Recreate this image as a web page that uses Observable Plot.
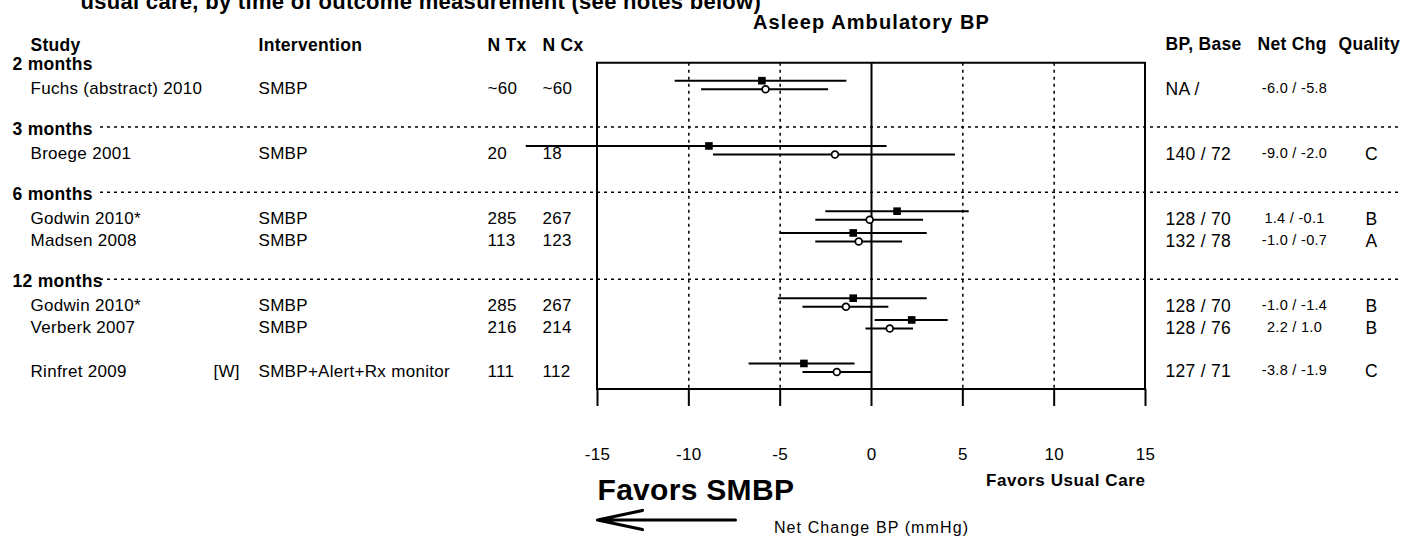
<!DOCTYPE html>
<html>
<head>
<meta charset="utf-8">
<script src="https://cdn.jsdelivr.net/npm/d3@7"></script>
<script src="https://cdn.jsdelivr.net/npm/@observablehq/plot@0.6"></script>
<style>
  html, body { margin: 0; padding: 0; background: #fff; }
  #chart svg { overflow: hidden; display: block; }
  #chart svg text { letter-spacing: 0.3px; }
  #chart svg g.wide text { letter-spacing: 1.1px; }
  #chart svg g.mid text { letter-spacing: 0.6px; }
</style>
</head>
<body>
<div id="chart"></div>
<script>
// ---------- data ----------
const title = "usual care, by time of outcome measurement (see notes below)";
const panelTitle = "Asleep Ambulatory BP";
const headersLeft = ["Study", "Intervention", "N Tx", "N Cx"];
const headersRight = ["BP, Base", "Net Chg", "Quality"];

const periods = ["2 months", "3 months", "6 months", "6 months", "12 months", "12 months", "12 months"];
const studies = ["Fuchs (abstract) 2010", "Broege 2001", "Godwin 2010*", "Madsen 2008", "Godwin 2010*", "Verberk 2007", "Rinfret 2009"];
const notes = ["", "", "", "", "", "", "[W]"];
const interventions = ["SMBP", "SMBP", "SMBP", "SMBP", "SMBP", "SMBP", "SMBP+Alert+Rx monitor"];
const nTx = ["~60", "20", "285", "113", "285", "216", "111"];
const nCx = ["~60", "18", "267", "123", "267", "214", "112"];
const bpBase = ["NA /", "140 / 72", "128 / 70", "132 / 78", "128 / 70", "128 / 76", "127 / 71"];
const netChg = ["-6.0 / -5.8", "-9.0 / -2.0", "1.4 / -0.1", "-1.0 / -0.7", "-1.0 / -1.4", "2.2 / 1.0", "-3.8 / -1.9"];
const quality = ["", "C", "B", "A", "B", "B", "C"];

// filled squares (first value) and open circles (second value), with CI ends
const sqEst = [-6.0, -8.9, 1.4, -1.0, -1.0, 2.2, -3.7];
const sqLo  = [-10.75, -18.9, -2.5, -5.0, -5.1, 0.2, -6.7];
const sqHi  = [-1.35, 0.85, 5.35, 3.05, 3.05, 4.2, -0.9];
const ciEst = [-5.8, -2.0, -0.1, -0.7, -1.4, 1.0, -1.9];
const ciLo  = [-9.3, -8.65, -3.05, -3.05, -3.75, -0.3, -3.75];
const ciHi  = [-2.35, 4.6, 2.85, 1.7, 0.95, 2.3, 0.0];

const xDomain = [-15, 15];
const xTicks = [-15, -10, -5, 0, 5, 10, 15];
const gridTicks = [-10, -5, 5, 10];
const xLabel = "Net Change BP (mmHg)";
const favorLeft = "Favors SMBP";
const favorRight = "Favors Usual Care";

// ---------- layout (rows) ----------
const gapBefore = ["Rinfret 2009"];
let row = 1;
const groups = [];
const data = [];
studies.forEach((s, i) => {
  if (i === 0 || periods[i] !== periods[i - 1]) {
    if (i > 0) row += 2;
    groups.push({label: periods[i], row});
    row += 1;
  } else {
    row += 1;
    if (gapBefore.includes(s)) row += 1;
  }
  data.push({
    row, study: s, note: notes[i], intervention: interventions[i],
    ntx: nTx[i], ncx: nCx[i], bp: bpBase[i], net: netChg[i], q: quality[i],
    sqEst: sqEst[i], sqLo: sqLo[i], sqHi: sqHi[i],
    ciEst: ciEst[i], ciLo: ciLo[i], ciHi: ciHi[i]
  });
});
const headerRow = 0;
const boxTop = 1;
const boxBottom = row + 1;
const arrowRow = boxBottom + 6;

const W = 1401, H = 536;
const mL = 100, mR = 0;
const font = "Liberation Sans, Arial, Helvetica, sans-serif";
const L = px => px - mL;          // dx from left frame edge
const R = px => px - (W - mR);    // dx from right frame edge

const txt = (d, o) => Plot.text(d, {fontFamily: font, fill: "black", lineAnchor: "middle", ...o});

const chart = Plot.plot({
  width: W, height: H,
  marginLeft: mL, marginRight: mR, marginTop: 0, marginBottom: 147,
  x: {domain: xDomain, range: [597, 1145]},
  y: {domain: [0, 16], range: [41, 389], axis: null},
  style: {fontFamily: font, background: "white", color: "black"},
  marks: [
    // group separators (dashed, across the full width)
    Plot.ruleY(groups.slice(1), {y: "row", dy: -1.5, stroke: "black", strokeWidth: 1.4, strokeDasharray: "3,4"}),
    // dotted grid
    Plot.ruleX(gridTicks, {x: d => d, y1: boxTop, y2: boxBottom, stroke: "black", strokeWidth: 1.5, strokeDasharray: "3,4"}),
    Plot.ruleX([0], {x: d => d, y1: boxTop, y2: boxBottom, stroke: "black", strokeWidth: 2}),
    // box
    Plot.rect([xDomain], {x1: d => d[0], x2: d => d[1], y1: boxTop, y2: boxBottom, fill: "none", stroke: "black", strokeWidth: 2}),
    // axis
    Plot.axisX({anchor: "bottom", ticks: xTicks, tickSize: 17, tickPadding: 41, strokeWidth: 2, fontSize: 17, tickFormat: d => String(d), label: null, fontFamily: font}),
    // error bars
    Plot.ruleY(data, {y: "row", x1: "sqLo", x2: "sqHi", dy: -4.3, stroke: "black", strokeWidth: 2}),
    Plot.ruleY(data, {y: "row", x1: "ciLo", x2: "ciHi", dy: 4.3, stroke: "black", strokeWidth: 2}),
    Plot.dot(data, {x: "sqEst", y: "row", dy: -4.3, symbol: "square", r: 4.3, fill: "black", stroke: "none"}),
    Plot.dot(data, {x: "ciEst", y: "row", dy: 4.3, symbol: "circle", r: 3.4, fill: "white", stroke: "black", strokeWidth: 1.7}),

    // titles
    txt([title], {frameAnchor: "top-left", dx: L(80), dy: 1.5, textAnchor: "start", fontSize: 22, fontWeight: "bold"}),
    txt([panelTitle], {x: 0, frameAnchor: "top", dy: 22, textAnchor: "middle", fontSize: 20, fontWeight: "bold", className: "wide"}),

    // left headers
    txt([headersLeft[0]], {frameAnchor: "left", y: headerRow, dx: L(30), dy: 4, textAnchor: "start", fontSize: 17.5, fontWeight: "bold"}),
    txt([headersLeft[1]], {frameAnchor: "left", y: headerRow, dx: L(258), dy: 4, textAnchor: "start", fontSize: 17.5, fontWeight: "bold"}),
    txt([headersLeft[2]], {frameAnchor: "left", y: headerRow, dx: L(487), dy: 4, textAnchor: "start", fontSize: 17.5, fontWeight: "bold"}),
    txt([headersLeft[3]], {frameAnchor: "left", y: headerRow, dx: L(542), dy: 4, textAnchor: "start", fontSize: 17.5, fontWeight: "bold"}),
    // right headers
    txt([headersRight[0]], {frameAnchor: "right", y: headerRow, dx: R(1165), dy: 3, textAnchor: "start", fontSize: 17.5, fontWeight: "bold"}),
    txt([headersRight[1]], {frameAnchor: "right", y: headerRow, dx: R(1257), dy: 3, textAnchor: "start", fontSize: 17.5, fontWeight: "bold"}),
    txt([headersRight[2]], {frameAnchor: "right", y: headerRow, dx: R(1338), dy: 3, textAnchor: "start", fontSize: 17.5, fontWeight: "bold"}),

    // group labels
    txt(groups, {frameAnchor: "left", y: "row", text: "label", dx: L(12), dy: 1, textAnchor: "start", fontSize: 17.5, fontWeight: "bold"}),

    // table columns
    txt(data, {frameAnchor: "left", y: "row", text: "study", dx: L(30), dy: 3.5, textAnchor: "start", fontSize: 17}),
    txt(data, {frameAnchor: "left", y: "row", text: "note", dx: L(213), dy: 3.5, textAnchor: "start", fontSize: 17}),
    txt(data, {frameAnchor: "left", y: "row", text: "intervention", dx: L(258), dy: 3.5, textAnchor: "start", fontSize: 17}),
    txt(data, {frameAnchor: "left", y: "row", text: "ntx", dx: L(487), dy: 3.5, textAnchor: "start", fontSize: 17}),
    txt(data, {frameAnchor: "left", y: "row", text: "ncx", dx: L(542), dy: 3.5, textAnchor: "start", fontSize: 17}),
    txt(data, {frameAnchor: "right", y: "row", text: "bp", dx: R(1165), dy: 4, textAnchor: "start", fontSize: 17.5}),
    txt(data, {frameAnchor: "right", y: "row", text: "net", dx: R(1294), dy: 3, textAnchor: "middle", fontSize: 14.5}),
    txt(data, {frameAnchor: "right", y: "row", text: "q", dx: R(1371), dy: 4, textAnchor: "middle", fontSize: 17.5}),

    // bottom annotations
    txt([favorRight], {x: xDomain[1], frameAnchor: "bottom", dy: 91, textAnchor: "end", fontSize: 17, fontWeight: "bold", className: "mid"}),
    txt([favorLeft], {x: xDomain[0], frameAnchor: "bottom", dy: 101, textAnchor: "start", fontSize: 30, fontWeight: "bold"}),
    txt([xLabel], {x: 0, frameAnchor: "bottom", dy: 138, textAnchor: "middle", fontSize: 16, className: "wide"}),
    Plot.arrow([{from: -7.45, to: xDomain[0]}], {x1: "from", x2: "to", y1: arrowRow, y2: arrowRow, stroke: "black", strokeWidth: 3.2, headLength: 24, headAngle: 24})
  ]
});
document.getElementById("chart").appendChild(chart);
</script>
</body>
</html>
